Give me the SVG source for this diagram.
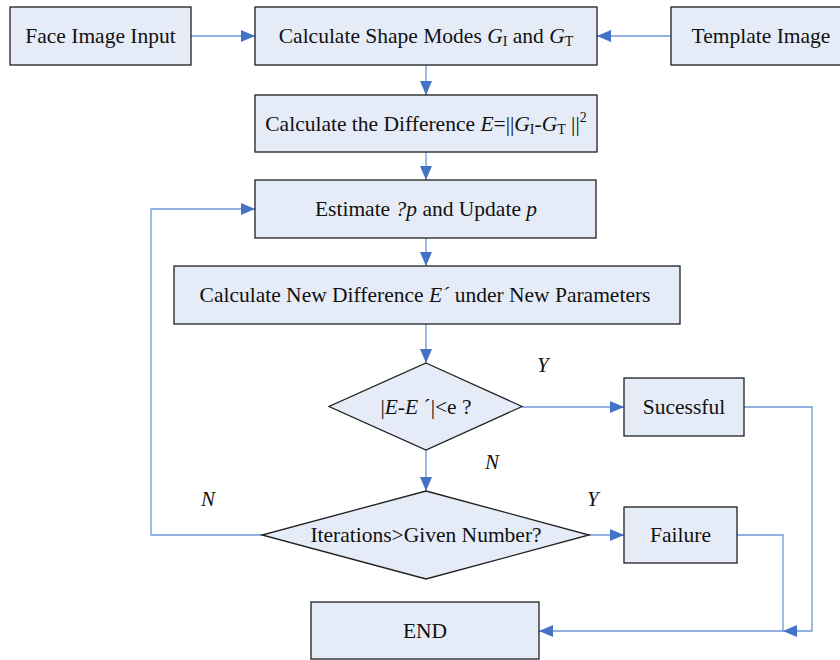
<svg xmlns="http://www.w3.org/2000/svg" width="840" height="660" viewBox="0 0 840 660">
<style>
.box{fill:#E6ECF7;stroke:#1f1f1f;stroke-width:1.3}
.t{font-family:"Liberation Serif","Times New Roman","DejaVu Serif",serif;font-size:21.5px;fill:#111;text-anchor:middle}
.i{font-style:italic}
.s{font-size:14px}
.c{fill:none;stroke:#6E96D6;stroke-width:1.3}
.lbl{font-family:"Liberation Serif","Times New Roman","DejaVu Serif",serif;font-size:21px;font-style:italic;fill:#111}
</style>
<defs>
<marker id="ah" viewBox="0 0 14 12" refX="14" refY="6" markerWidth="14" markerHeight="12" markerUnits="userSpaceOnUse" orient="auto">
<path d="M0,0 L14,6 L0,12 Z" fill="#4472C4"/>
</marker>
</defs>
<rect width="840" height="660" fill="#fff"/>
<g id="connectors">
<line class="c" x1="191" y1="36" x2="255" y2="36" marker-end="url(#ah)"/>
<line class="c" x1="671" y1="36" x2="597" y2="36" marker-end="url(#ah)"/>
<line class="c" x1="426" y1="65" x2="426" y2="95" marker-end="url(#ah)"/>
<line class="c" x1="426" y1="152" x2="426" y2="180" marker-end="url(#ah)"/>
<line class="c" x1="426" y1="238" x2="426" y2="266" marker-end="url(#ah)"/>
<line class="c" x1="426" y1="324" x2="426" y2="363" marker-end="url(#ah)"/>
<line class="c" x1="426" y1="450" x2="426" y2="491" marker-end="url(#ah)"/>
<line class="c" x1="522" y1="407" x2="624" y2="407" marker-end="url(#ah)"/>
<line class="c" x1="589" y1="535" x2="624" y2="535" marker-end="url(#ah)"/>
<polyline class="c" points="262,535 151,535 151,209 255,209" marker-end="url(#ah)"/>
<polyline class="c" points="744,407 812,407 812,631 783,631" marker-end="url(#ah)"/>
<polyline class="c" points="737,535 783,535 783,631 539,631" marker-end="url(#ah)"/>
</g>
<g id="face">
<rect class="box" x="10" y="7" width="181" height="58"/>
<text class="t" x="100.5" y="43">Face Image Input</text>
</g>
<g id="shape">
<rect class="box" x="255" y="7" width="342" height="58"/>
<text class="t" x="426" y="43">Calculate Shape Modes <tspan class="i">G</tspan><tspan class="s" dy="3">I</tspan><tspan dy="-3"> and </tspan><tspan class="i">G</tspan><tspan class="s" dy="3">T</tspan></text>
</g>
<g id="template">
<rect class="box" x="671" y="7" width="180" height="58"/>
<text class="t" x="761" y="43">Template Image</text>
</g>
<g id="diff">
<rect class="box" x="255" y="95" width="342" height="57"/>
<text class="t" x="426" y="131">Calculate the Difference <tspan class="i">E</tspan>=||<tspan class="i">G</tspan><tspan class="s" dy="3">I</tspan><tspan dy="-3">-</tspan><tspan class="i">G</tspan><tspan class="s" dy="3">T</tspan><tspan dy="-3"> ||</tspan><tspan class="s" dy="-9">2</tspan></text>
</g>
<g id="estimate">
<rect class="box" x="255" y="180" width="341" height="58"/>
<text class="t" x="426" y="216">Estimate <tspan class="i">?p</tspan> and Update <tspan class="i">p</tspan></text>
</g>
<g id="newdiff">
<rect class="box" x="174" y="266" width="506" height="58"/>
<text class="t" x="425" y="302">Calculate New Difference <tspan class="i">E´</tspan> under New Parameters</text>
</g>
<g id="cond1">
<polygon class="box" points="426,363 522,406.5 426,450 329,406.5"/>
<text class="t" x="426" y="414">|<tspan class="i">E-E</tspan> ´|&lt;e ?</text>
</g>
<g id="success">
<rect class="box" x="624" y="378" width="120" height="58"/>
<text class="t" x="684" y="414">Sucessful</text>
</g>
<g id="cond2">
<polygon class="box" points="426,491 589,535 426,579 262,535"/>
<text class="t" x="426" y="542">Iterations&gt;Given Number?</text>
</g>
<g id="failure">
<rect class="box" x="624" y="507" width="113" height="56"/>
<text class="t" x="680.5" y="542">Failure</text>
</g>
<g id="end">
<rect class="box" x="311" y="602" width="228" height="57"/>
<text class="t" x="425" y="638">END</text>
</g>
<g id="labels">
<text class="lbl" x="537" y="372">Y</text>
<text class="lbl" x="485" y="469">N</text>
<text class="lbl" x="201" y="506">N</text>
<text class="lbl" x="587" y="506">Y</text>
</g>
</svg>
